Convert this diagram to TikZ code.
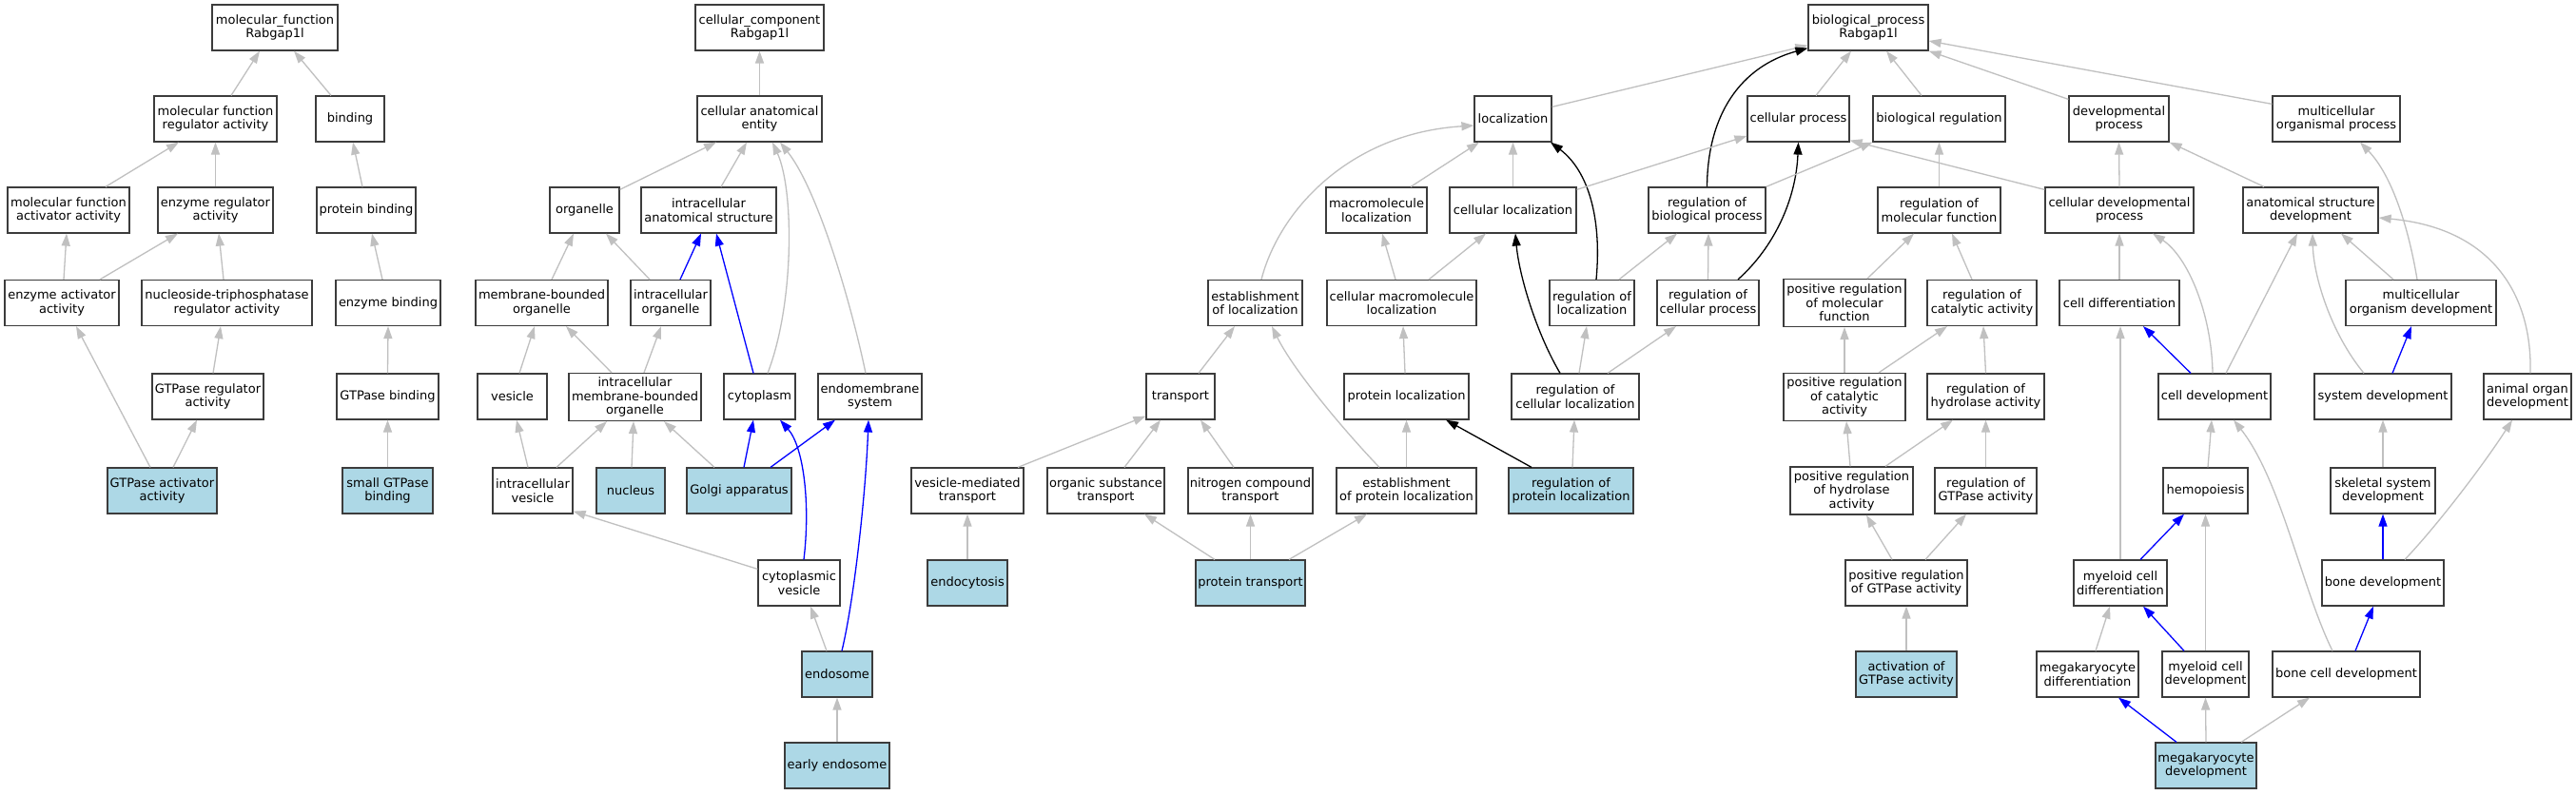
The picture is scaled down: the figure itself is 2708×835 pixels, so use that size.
\documentclass[tikz,border=0pt]{standalone}
\usepackage{fontspec}
\setmainfont{DejaVu Sans}
\usetikzlibrary{arrows.meta}
\definecolor{edgegray}{RGB}{192,192,192}
\definecolor{lb}{RGB}{173,216,230}
\definecolor{bordergray}{RGB}{60,60,60}
\newcommand\upedge[5][ge]{\draw[#1] ([xshift=#3pt]#2.north) -- ([xshift=#5pt]#4.south);}
\newcommand\gonode[6][bx]{\node[#1, minimum width=#5pt] (#2) at (#3,#4) {#6};}
\begin{document}
\begin{tikzpicture}[x=1pt,y=-1pt,
  bx/.style={draw=bordergray, line width=1.2pt, fill=white, inner sep=0pt, minimum height=48pt, align=center, font=\fontsize{13pt}{14.5pt}\selectfont},
  hl/.style={bx, fill=lb},
  bx3/.style={bx, minimum height=50pt},
  ge/.style={draw=edgegray, line width=1.3pt, -{Triangle[length=13pt,width=9pt]}},
  be/.style={draw=blue, line width=1.3pt, -{Triangle[length=13pt,width=9pt]}},
  ke/.style={draw=black, line width=1.3pt, -{Triangle[length=13pt,width=9pt]}}]
\fill[white] (0,0) rectangle (2708,835);
\useasboundingbox (0,0) rectangle (2708,835);
% molecular function
\gonode{mf}{289}{29}{132}{molecular\_function\\Rabgap1l}
\gonode{mfra}{226.5}{125}{129}{molecular function\\regulator activity}
\gonode{binding}{368}{125}{72}{binding}
\gonode{mfaa}{72}{221}{128}{molecular function\\activator activity}
\gonode{era}{226.5}{221}{121}{enzyme regulator\\activity}
\gonode{pb}{385}{221}{104}{protein binding}
\gonode{eaa}{65}{318.5}{120}{enzyme activator\\activity}
\gonode{ntra}{238.5}{318.5}{179}{nucleoside-triphosphatase\\regulator activity}
\gonode{eb}{408}{318.5}{110}{enzyme binding}
\gonode{gra}{218.5}{417}{117}{GTPase regulator\\activity}
\gonode{gb}{407.5}{417}{107}{GTPase binding}
\gonode[hl]{gaa}{170.5}{516}{115}{GTPase activator\\activity}
\gonode[hl]{sgb}{407.5}{516}{95}{small GTPase\\binding}
% cellular component
\gonode{cc}{798.5}{29}{135}{cellular\_component\\Rabgap1l}
\gonode{cae}{798.5}{125}{131}{cellular anatomical\\entity}
\gonode{org}{614.5}{221}{73}{organelle}
\gonode{ias}{745}{221}{142}{intracellular\\anatomical structure}
\gonode{mbo}{569.5}{318.5}{139}{membrane-bounded\\organelle}
\gonode{io}{705}{318.5}{84}{intracellular\\organelle}
\gonode{ves}{538.5}{417}{73}{vesicle}
\gonode[bx3]{imbo}{667.5}{417.5}{139}{intracellular\\membrane-bounded\\organelle}
\gonode{cyto}{798.5}{417}{75}{cytoplasm}
\gonode{ems}{914.5}{417}{109}{endomembrane\\system}
\gonode{iv}{560}{516}{84}{intracellular\\vesicle}
\gonode[hl]{nuc}{663}{516}{72}{nucleus}
\gonode[hl]{golgi}{777}{516}{110}{Golgi apparatus}
\gonode{cv}{840}{613}{86}{cytoplasmic\\vesicle}
\gonode[hl]{endo}{880}{709}{74}{endosome}
\gonode[hl]{ee}{880}{805}{110}{early endosome}
% biological process
\gonode{bp}{1964}{29}{126}{biological\_process\\Rabgap1l}
\gonode{loc}{1590.5}{125}{81}{localization}
\gonode{cp}{1890.5}{125}{107}{cellular process}
\gonode{br}{2038.5}{125}{139}{biological regulation}
\gonode{dp}{2227.5}{125}{105}{developmental\\process}
\gonode{mop}{2456}{125}{134}{multicellular\\organismal process}
\gonode{ml}{1447}{221}{106}{macromolecule\\localization}
\gonode{cl}{1590.5}{221}{133}{cellular localization}
\gonode{rbp}{1794.5}{221}{123}{regulation of\\biological process}
\gonode{rmf}{2038.5}{221}{129}{regulation of\\molecular function}
\gonode{cdp}{2228}{221}{156}{cellular developmental\\process}
\gonode{asd}{2429}{221}{142}{anatomical structure\\development}
\gonode{eol}{1319.5}{318.5}{99}{establishment\\of localization}
\gonode{cml}{1473.5}{318.5}{157}{cellular macromolecule\\localization}
\gonode{rol}{1673.5}{318.5}{89}{regulation of\\localization}
\gonode{rcp}{1795.5}{318.5}{107}{regulation of\\cellular process}
\gonode[bx3]{prmf}{1939}{318.5}{128}{positive regulation\\of molecular\\function}
\gonode{rca}{2083.5}{318.5}{115}{regulation of\\catalytic activity}
\gonode{cdiff}{2228}{318.5}{126}{cell differentiation}
\gonode{mod}{2545}{318.5}{158}{multicellular\\organism development}
\gonode{tr}{1241}{417}{72}{transport}
\gonode{pl}{1478.5}{417}{131}{protein localization}
\gonode{rcl}{1656}{417}{134}{regulation of\\cellular localization}
\gonode[bx3]{pcra}{1939}{417.5}{128}{positive regulation\\of catalytic\\activity}
\gonode{rha}{2087.5}{417}{123}{regulation of\\hydrolase activity}
\gonode{cdev}{2328}{417}{118}{cell development}
\gonode{sd}{2505}{417}{144}{system development}
\gonode{aod}{2657}{417}{92}{animal organ\\development}
\gonode{vmt}{1017}{516}{118}{vesicle-mediated\\transport}
\gonode{ost}{1162.5}{516}{123}{organic substance\\transport}
\gonode{nct}{1314.5}{516}{131}{nitrogen compound\\transport}
\gonode{epl}{1478.5}{516}{147}{establishment\\of protein localization}
\gonode[hl]{rpl}{1651.5}{516}{131}{regulation of\\protein localization}
\gonode[bx3]{prha}{1946.5}{516}{129}{positive regulation\\of hydrolase\\activity}
\gonode{rGa}{2087.5}{516}{107}{regulation of\\GTPase activity}
\gonode{hemo}{2318.5}{516}{89}{hemopoiesis}
\gonode{ssd}{2505}{516}{110}{skeletal system\\development}
\gonode[hl]{endoc}{1017}{613}{84}{endocytosis}
\gonode[hl]{ptr}{1314.5}{613}{115}{protein transport}
\gonode{prGa}{2004}{613}{128}{positive regulation\\of GTPase activity}
\gonode{mcd}{2229}{613}{98}{myeloid cell\\differentiation}
\gonode{bd}{2505}{613}{128}{bone development}
\gonode[hl]{aGa}{2004}{709}{106}{activation of\\GTPase activity}
\gonode{mkd}{2194.5}{709}{107}{megakaryocyte\\differentiation}
\gonode{mycd}{2318.5}{709}{91}{myeloid cell\\development}
\gonode{bcd}{2466.5}{709}{155}{bone cell development}
\gonode[hl]{mkdev}{2319}{805}{106}{megakaryocyte\\development}
% ---- edges: molecular function
\upedge{mfra}{16.5}{mf}{-16}
\upedge{binding}{-20}{mf}{20}
\upedge{mfaa}{39}{mfra}{-38.5}
\upedge{era}{0}{mfra}{0}
\upedge{pb}{-4}{binding}{3}
\upedge{eaa}{2}{mfaa}{-2}
\upedge{eaa}{40}{era}{-39.5}
\upedge{ntra}{-3.5}{era}{3.5}
\upedge{eb}{-6}{pb}{6}
\upedge{gra}{5.5}{ntra}{-6.5}
\upedge{gb}{0}{eb}{0}
\upedge{gaa}{-12.5}{eaa}{15}
\upedge{gaa}{11.5}{gra}{-11.5}
\upedge{sgb}{0}{gb}{0}
% ---- edges: cellular component
\upedge{cae}{0}{cc}{0}
\draw[ge] ([yshift=-3pt]org.north east) -- ([xshift=-45.5pt]cae.south);
\upedge{ias}{13}{cae}{-13.5}
\draw[ge] ([xshift=8.5pt]cyto.north) .. controls (835,320) and (835,200) .. ([xshift=13.5pt]cae.south);
\draw[ge] ([xshift=-4.5pt]ems.north) .. controls (895,320) and (860,200) .. ([xshift=21.5pt]cae.south);
\upedge{mbo}{10.5}{org}{-11.5}
\upedge{io}{-22}{org}{22.5}
\upedge[be]{io}{10}{ias}{-8}
\upedge[be]{cyto}{-6.5}{ias}{8}
\upedge{ves}{7.5}{mbo}{-7.5}
\upedge{imbo}{-24.5}{mbo}{25.5}
\upedge{imbo}{9.5}{io}{-10}
\upedge{iv}{-5}{ves}{4.5}
\upedge{iv}{25}{imbo}{-29.5}
\upedge{nuc}{1}{imbo}{-1.5}
\upedge{golgi}{-26}{imbo}{30.5}
\upedge[be]{golgi}{5}{cyto}{-6.5}
\upedge[be]{golgi}{33}{ems}{-36.5}
\draw[ge] ([yshift=-10pt]cv.north west) -- ([yshift=3pt]iv.south east);
\draw[be] ([xshift=5pt]cv.north) .. controls (852,530) and (845,470) .. ([xshift=21.5pt]cyto.south);
\upedge{endo}{-11}{cv}{12}
\draw[be] ([xshift=5pt]endo.north) .. controls (898,630) and (910,520) .. ([xshift=-1.5pt]ems.south);
\upedge{ee}{0}{endo}{0}
% ---- edges: biological process
\draw[ge] ([yshift=-12pt]loc.north east) -- ([yshift=6pt]bp.south west);
\upedge{cp}{18.5}{bp}{-18}
\upedge{br}{-18.5}{bp}{19}
\draw[ge] ([yshift=-4pt]dp.north west) -- (bp.south east);
\draw[ge] ([yshift=-9pt]mop.north west) -- ([yshift=-14pt]bp.east);
\draw[ke] (rbp.north) .. controls (1795,120) and (1830,70) .. ([yshift=3pt]bp.south west);
\draw[ke] ([xshift=31.5pt]rcp.north) .. controls (1865,260) and (1888,210) .. (cp.south);
\draw[ke] ([xshift=4.5pt]rol.north) .. controls (1684,230) and (1670,180) .. ([xshift=39.5pt]loc.south);
\draw[ke] ([xshift=-16pt]rcl.north) .. controls (1615,350) and (1597,290) .. ([xshift=2.5pt]cl.south);
\upedge{ml}{36}{loc}{-35.5}
\upedge{cl}{0}{loc}{0}
\draw[ge] ([xshift=6.5pt]eol.north) .. controls (1345,220) and (1420,140) .. ([yshift=-7pt]loc.west);
\draw[ge] ([yshift=-3pt]cl.north east) -- ([yshift=-18pt]cp.west);
\draw[ge] (rbp.north east) -- (br.south west);
\draw[ge] ([yshift=-3pt]cdp.north west) -- ([yshift=2pt]cp.south east);
\upedge{rmf}{0}{br}{0}
\upedge{cdp}{0}{dp}{0}
\draw[ge] ([xshift=-49pt]asd.north) -- (dp.south east);
\draw[ge] ([xshift=-4pt]mod.north) .. controls (2532,240) and (2515,185) .. ([xshift=25pt]mop.south);
\upedge{prmf}{24}{rmf}{-26.5}
\upedge{rca}{-10.5}{rmf}{13.5}
\upedge{cdiff}{0}{cdp}{0}
\draw[ge] ([xshift=-2pt]cdev.north) .. controls (2325,330) and (2300,270) .. ([xshift=35pt]cdp.south);
\upedge{cdev}{12}{asd}{-14}
\upedge{mod}{-29}{asd}{32}
\draw[ge] ([xshift=-20pt]sd.north) .. controls (2450,350) and (2432,290) .. ([xshift=2pt]asd.south);
\draw[ge] ([xshift=3pt]aod.north) .. controls (2662,310) and (2620,240) .. ([yshift=-8pt]asd.east);
\upedge[be]{sd}{10}{mod}{-10}
\upedge{pcra}{0}{prmf}{0}
\upedge{pcra}{36}{rca}{-36.5}
\upedge{rha}{0}{rca}{1.5}
\upedge{prha}{-1.5}{pcra}{2}
\upedge{prha}{35.5}{rha}{-34.5}
\upedge{rGa}{0}{rha}{0}
\upedge{prGa}{-15}{prha}{15.5}
\upedge{prGa}{20}{rGa}{-20.5}
\upedge{aGa}{0}{prGa}{0}
\upedge{mcd}{0}{cdiff}{1}
\upedge[be]{cdev}{-25}{cdiff}{25}
\upedge{hemo}{2.5}{cdev}{-3}
\draw[ge] ([xshift=-14.5pt]bcd.north) .. controls (2420,620) and (2398,505) .. ([xshift=20pt]cdev.south);
\upedge[be]{mcd}{21}{hemo}{-22.5}
\upedge{ssd}{0}{sd}{0}
\upedge[be]{bd}{0}{ssd}{0}
\draw[ge] ([xshift=23pt]bd.north) .. controls (2560,555) and (2610,490) .. ([xshift=-16pt]aod.south);
\upedge{mkd}{8.5}{mcd}{-11}
\upedge[be]{mycd}{-22.5}{mcd}{24}
\upedge{mycd}{0}{hemo}{0}
\upedge[be]{bcd}{9.5}{bd}{-10}
\upedge[be]{mkdev}{-31}{mkd}{32.5}
\upedge{mkdev}{0}{mycd}{0}
\upedge{mkdev}{37}{bcd}{-38.5}
% ---- edges: transport / localization
\upedge{tr}{19}{eol}{-21.5}
\draw[ge] ([xshift=-28.5pt]epl.north) .. controls (1415,455) and (1360,390) .. ([xshift=17.5pt]eol.south);
\upedge{epl}{0}{pl}{0}
\upedge{pl}{-1.5}{cml}{1.5}
\upedge[ke]{rpl}{-41.5}{pl}{41.5}
\upedge{rpl}{1.5}{rcl}{-1}
\upedge{rcl}{4}{rol}{-5.5}
\upedge{rcl}{34}{rcp}{-33.5}
\upedge{rol}{28.5}{rbp}{-31.5}
\upedge{rcp}{0}{rbp}{1.5}
\upedge{cml}{-6.5}{ml}{6}
\upedge{cml}{28.5}{cl}{-28.5}
\draw[ge] ([xshift=53pt]vmt.north) -- ([yshift=4pt]tr.south west);
\upedge{ost}{19.5}{tr}{-21}
\upedge{nct}{-17.5}{tr}{21}
\upedge{endoc}{0}{vmt}{0}
\upedge{ptr}{-37.5}{ost}{40.5}
\upedge{ptr}{0}{nct}{0}
\upedge{ptr}{40.5}{epl}{-41.5}
\end{tikzpicture}
\end{document}
